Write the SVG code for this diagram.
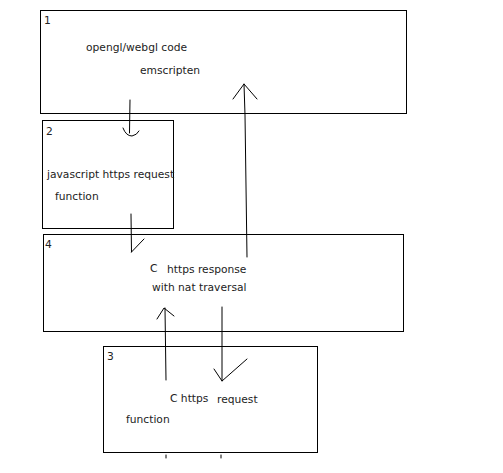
<svg xmlns="http://www.w3.org/2000/svg" width="503" height="473" viewBox="0 0 503 473">
<style>
.box{fill:#fff;stroke:#000;stroke-width:1}
.t{font-family:"DejaVu Sans",sans-serif;font-size:10.7px;fill:#222}
.c{fill:none;stroke:#000;stroke-width:1;stroke-linecap:round;stroke-linejoin:round}
</style>
<rect width="503" height="473" fill="#fff"/>
<g id="node1">
<rect class="box" x="40.5" y="10.5" width="366" height="103"/>
<text class="t" x="44" y="24">1</text>
<text class="t" x="86" y="51">opengl/webgl code</text>
<text class="t" x="140" y="74">emscripten</text>
</g>
<g id="node2">
<rect class="box" x="42.5" y="120.5" width="131" height="108"/>
<text class="t" x="46" y="135">2</text>
<text class="t" x="47" y="178">javascript https request</text>
<text class="t" x="55" y="200">function</text>
</g>
<g id="node4">
<rect class="box" x="43.5" y="234.5" width="360" height="97"/>
<text class="t" x="45" y="248">4</text>
<text class="t" x="150" y="272">C</text>
<text class="t" x="167" y="273">https response</text>
<text class="t" x="152" y="291">with nat traversal</text>
</g>
<g id="node3">
<rect class="box" x="103.5" y="346.5" width="214" height="106"/>
<text class="t" x="107" y="360">3</text>
<text class="t" x="170" y="402">C https</text>
<text class="t" x="217" y="403">request</text>
<text class="t" x="126" y="423">function</text>
</g>
<g id="connectors">
<path class="c" d="M130,100 L129.5,133"/>
<path class="c" d="M123,128 Q126,136 132,136 Q137,135 139,131"/>
<path class="c" d="M131,214 L131.5,252"/>
<path class="c" d="M131.5,252 L144,239"/>
<path class="c" d="M247,257 L245,115 L244,84"/>
<path class="c" d="M233,99 L244,84 L257,99"/>
<path class="c" d="M166,380 L165,308"/>
<path class="c" d="M157,319 L164,308 L174,316"/>
<path class="c" d="M222,307 L222,381"/>
<path class="c" d="M214,369 L222,381 L247,359"/>
<path class="c" d="M166,455 L166,458"/>
<path class="c" d="M221,455 L221,458"/>
</g>
</svg>
